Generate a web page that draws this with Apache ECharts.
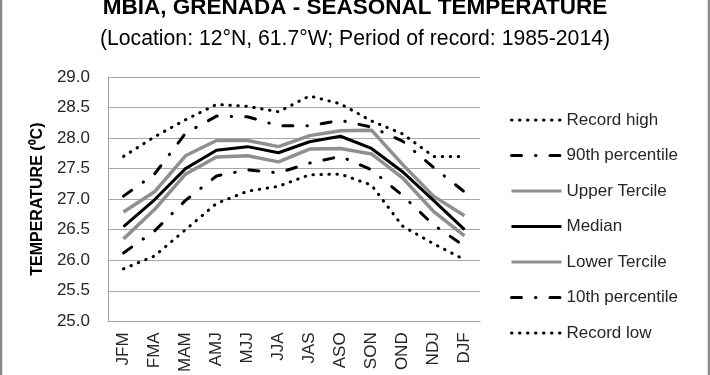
<!DOCTYPE html>
<html>
<head>
<meta charset="utf-8">
<script src="https://cdn.jsdelivr.net/npm/echarts@6/dist/echarts.min.js"></script>
<style>
  html, body { margin: 0; padding: 0; background: #fff; }
  #chart { width: 710px; height: 375px; }
</style>
</head>
<body>
<div id="chart"></div>
<script>
// seasons (3-month running windows)
const seasons = ["JFM", "FMA", "MAM", "AMJ", "MJJ", "JJA", "JAS", "ASO", "SON", "OND", "NDJ", "DJF"];

// temperatures in deg C
const recordHigh = [27.70, 28.02, 28.30, 28.55, 28.52, 28.43, 28.69, 28.56, 28.28, 28.07, 27.70, 27.70];
const pct90 = [27.05, 27.41, 28.08, 28.36, 28.35, 28.20, 28.20, 28.29, 28.18, 27.95, 27.52, 27.12];
const upperTercile = [26.79, 27.12, 27.71, 27.96, 27.96, 27.86, 28.04, 28.12, 28.13, 27.57, 27.05, 26.73];
const median = [26.55, 26.99, 27.50, 27.80, 27.86, 27.76, 27.94, 28.03, 27.83, 27.45, 26.98, 26.50];
const lowerTercile = [26.35, 26.83, 27.41, 27.69, 27.71, 27.61, 27.82, 27.83, 27.74, 27.35, 26.80, 26.40];
const pct10 = [26.12, 26.48, 26.98, 27.38, 27.48, 27.43, 27.59, 27.70, 27.48, 27.06, 26.58, 26.23];
const recordLow = [25.86, 26.07, 26.50, 26.93, 27.13, 27.21, 27.40, 27.41, 27.23, 26.56, 26.27, 26.01];

// y axis range
const yMin = 25.0;
const yMax = 29.0;
const yStep = 0.5;

const font = "Liberation Sans";
const dotted = { color: "#000", width: 3, type: [0.5, 7.5], cap: "round" };
const dashDot = { color: "#000", width: 3, type: [10, 14, 0.5, 14], cap: "round" };
const grey = { color: "#8f8f8f", width: 3.5, type: "solid" };
const black = { color: "#000", width: 3, type: "solid" };

const mkLine = (name, data, style) => ({
  name: name,
  type: "line",
  data: data,
  symbol: "none",
  smooth: false,
  lineStyle: style,
  itemStyle: { color: style.color },
  emphasis: { disabled: true },
  z: name == "Median" ? 5 : 3,
});

var myChart = echarts.init(document.getElementById("chart"));
var option = {
  animation: false,
  title: [
    {
      text: "MBIA, GRENADA - SEASONAL TEMPERATURE",
      left: "center",
      top: -4,
      padding: 0,
      textStyle: { fontFamily: font, fontWeight: "bold", fontSize: 22.5, color: "#000" },
    },
    {
      text: "(Location: 12°N, 61.7°W; Period of record: 1985-2014)",
      left: "center",
      top: 29,
      padding: 0,
      textStyle: { fontFamily: font, fontWeight: "normal", fontSize: 21.2, color: "#000" },
    },
  ],
  graphic: [
    {
      type: "rect",
      shape: { x: 1, y: -20, width: 708, height: 420 },
      style: { fill: "none", stroke: "#888", lineWidth: 2.5 },
      silent: true,
    },
  ],
  legend: {
    orient: "vertical",
    left: 510,
    top: 111.5,
    padding: 0,
    itemWidth: 50,
    itemHeight: 14,
    itemGap: 18.5,
    itemStyle: { opacity: 0 },
    lineStyle: { width: 3 },
    data: ["Record high", "90th percentile", "Upper Tercile", "Median", "Lower Tercile", "10th percentile", "Record low"],
    textStyle: { fontFamily: font, fontSize: 17, color: "#262626" },
  },
  grid: { left: 108, right: 230, top: 77, bottom: 45, containLabel: false },
  xAxis: {
    type: "category",
    data: seasons,
    boundaryGap: true,
    axisLine: { lineStyle: { color: "#a0a0a0", width: 1 } },
    axisTick: { show: false },
    axisLabel: { rotate: 90, margin: 11, fontFamily: font, fontSize: 17, color: "#262626", interval: 0 },
  },
  yAxis: {
    type: "value",
    min: yMin,
    max: yMax,
    interval: yStep,
    name: "TEMPERATURE (⁰C)",
    nameLocation: "middle",
    nameGap: 57,
    nameTextStyle: { fontFamily: font, fontWeight: "bold", fontSize: 16, color: "#000" },
    axisLine: { show: true, lineStyle: { color: "#a0a0a0", width: 1 } },
    axisTick: { show: false },
    splitLine: { lineStyle: { color: "#a8a8a8", width: 1 } },
    axisLabel: {
      margin: 18,
      fontFamily: font,
      fontSize: 17,
      color: "#262626",
      formatter: (v) => v.toFixed(1),
    },
  },
  series: [
    mkLine("Record high", recordHigh, dotted),
    mkLine("90th percentile", pct90, dashDot),
    mkLine("Upper Tercile", upperTercile, grey),
    mkLine("Median", median, black),
    mkLine("Lower Tercile", lowerTercile, grey),
    mkLine("10th percentile", pct10, dashDot),
    mkLine("Record low", recordLow, dotted),
  ],
};
myChart.setOption(option);
</script>
</body>
</html>
